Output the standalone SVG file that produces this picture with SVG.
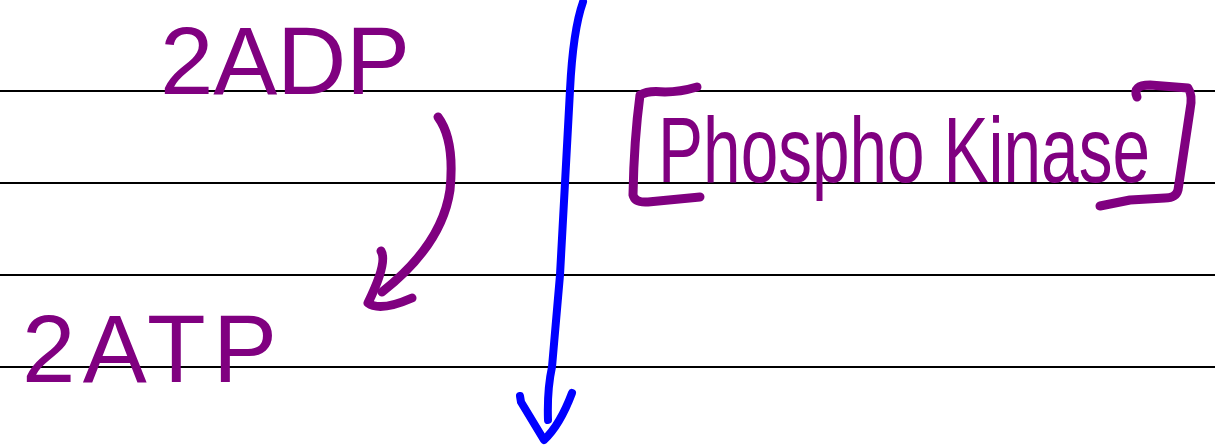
<svg xmlns="http://www.w3.org/2000/svg" width="1215" height="446" viewBox="0 0 1215 446">
  <style>
    .rule { stroke: #000; stroke-width: 2; }
    .ink { fill: #800080; font-family: "Liberation Sans", "DejaVu Sans", sans-serif; }
    .pstroke { fill: none; stroke: #800080; stroke-width: 9; stroke-linecap: round; stroke-linejoin: round; }
    .bstroke { fill: none; stroke: #0000FF; stroke-width: 8; stroke-linecap: round; stroke-linejoin: round; }
  </style>
  <rect width="1215" height="446" fill="#fff"/>
  <g id="rules">
    <line class="rule" x1="0" y1="91" x2="1215" y2="91"/>
    <line class="rule" x1="0" y1="183" x2="1215" y2="183"/>
    <line class="rule" x1="0" y1="275" x2="1215" y2="275"/>
    <line class="rule" x1="0" y1="367" x2="1215" y2="367"/>
  </g>
  <g id="adp">
    <text class="ink" x="160" y="94" font-size="96" textLength="250" lengthAdjust="spacing">2ADP</text>
  </g>
  <g id="atp">
    <text class="ink" x="22" y="382" font-size="96" textLength="255" lengthAdjust="spacing">2ATP</text>
  </g>
  <g id="enzyme">
    <path class="pstroke" d="M697 87 Q680 92 665 92 Q648 90 640 95 Q634 140 633 195 Q635 203 648 202 L700 197"/>
    <path class="pstroke" d="M1137 97 Q1132 85 1150 85 L1188 88 Q1193 95 1190 110 L1178 190 Q1176 198 1165 198 L1130 200 L1100 206"/>
    <text class="ink" transform="translate(658 182) scale(1 1.35)" x="0" y="0" font-size="68" textLength="492" lengthAdjust="spacingAndGlyphs">Phospho Kinase</text>
  </g>
  <g id="connectors">
    <path class="pstroke" d="M438 117 Q455 140 450 190 Q442 245 382 292"/>
    <path class="pstroke" d="M381 251 Q388 262 368 303 Q380 312 412 298"/>
    <path class="bstroke" d="M583 2 Q573 30 570 90 L565 183 L560 275 L552 367 Q547 390 548 420"/>
    <path class="bstroke" d="M520 396 L521 402 L544 440 Q560 425 572 393"/>
  </g>
</svg>
